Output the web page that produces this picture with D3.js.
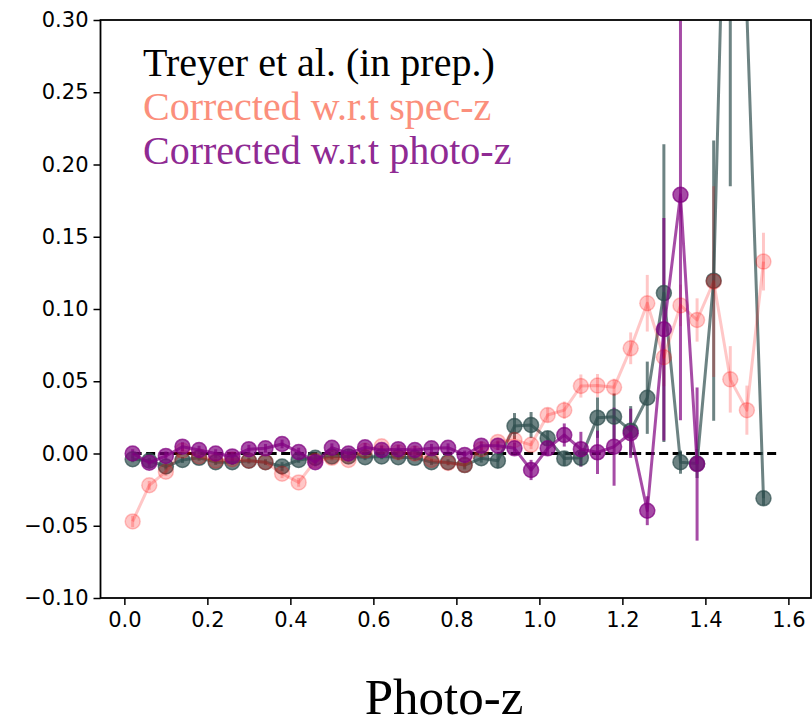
<!DOCTYPE html>
<html>
<head>
<meta charset="utf-8">
<script src="https://cdn.jsdelivr.net/npm/d3@7/dist/d3.min.js"></script>
<style>
  body { margin: 0; background: #fff; }
  .tick text { font-family: "DejaVu Sans", sans-serif; font-size: 21px; fill: #000; }
  .legend-text { font-family: "Liberation Serif", "Times New Roman", serif; font-size: 40px; }
</style>
</head>
<body>
<div id="chart"></div>
<script>
// photo-z bins (bin centres)
var zBins = [0.02, 0.06, 0.10, 0.14, 0.18, 0.22, 0.26, 0.30, 0.34, 0.38,
  0.42, 0.46, 0.50, 0.54, 0.58, 0.62, 0.66, 0.70, 0.74, 0.78,
  0.82, 0.86, 0.90, 0.94, 0.98, 1.02, 1.06, 1.10, 1.14, 1.18,
  1.22, 1.26, 1.30, 1.34, 1.38, 1.42, 1.46, 1.50, 1.54];

// Treyer et al. (in prep.)
var treyerVal = [-0.004, -0.005, -0.009, -0.0045, -0.003, -0.006, -0.006, -0.005, -0.006, -0.009,
  -0.0045, -0.003, -0.002, -0.002, -0.0026, -0.002, -0.0026, -0.003, -0.006, -0.006,
  -0.008, -0.0033, -0.005, 0.019, 0.0197, 0.0105, -0.0035, -0.003, 0.0248, 0.0255,
  0.0158, 0.0386, 0.111, -0.006, -0.007, 0.1196, 0.56, 0.305, -0.031];
var treyerErr = [0.002, 0.002, 0.002, 0.002, 0.002, 0.002, 0.002, 0.002, 0.002, 0.003,
  0.002, 0.002, 0.002, 0.002, 0.002, 0.002, 0.002, 0.002, 0.002, 0.002,
  0.003, 0.003, 0.005, 0.009, 0.009, 0.005, 0.005, 0.006, 0.014, 0.016,
  0.017, 0.025, 0.103, 0.008, 0.01, 0.097, 0.375, 0.004, 0.005];

// corrected w.r.t spec-z
var specVal = [-0.047, -0.022, -0.0126, 0.002, -0.002, -0.005, -0.004, -0.005, -0.006, -0.014,
  -0.020, -0.005, -0.003, -0.0045, 0.002, 0.005, 0.001, 0.000, -0.0045, -0.0066,
  -0.008, 0.003, 0.008, 0.0093, 0.006, 0.0266, 0.030, 0.0467, 0.047, 0.0458,
  0.0728, 0.104, 0.0666, 0.1025, 0.0924, 0.119, 0.0513, 0.030, 0.1328];
var specErr = [0.004, 0.003, 0.003, 0.002, 0.002, 0.002, 0.002, 0.002, 0.002, 0.003,
  0.003, 0.002, 0.002, 0.002, 0.002, 0.002, 0.002, 0.002, 0.002, 0.002,
  0.002, 0.003, 0.003, 0.003, 0.003, 0.005, 0.006, 0.008, 0.008, 0.006,
  0.011, 0.0196, 0.02, 0.0144, 0.015, 0.066, 0.023, 0.017, 0.02];

// corrected w.r.t photo-z (stops at 1.38)
var photoVal = [0.000, -0.0064, -0.0017, 0.0047, 0.0024, 0.000, -0.002, 0.003, 0.0036, 0.0066,
  0.001, -0.006, 0.004, 0.000, 0.0043, 0.0024, 0.003, 0.0024, 0.0036, 0.004,
  -0.001, 0.0054, 0.0054, 0.0036, -0.0114, 0.0036, 0.0128, 0.003, 0.0008, 0.0047,
  0.014, -0.0396, 0.086, 0.179, -0.0073];
var photoErr = [0.003, 0.003, 0.003, 0.003, 0.003, 0.003, 0.003, 0.003, 0.003, 0.003,
  0.003, 0.003, 0.003, 0.003, 0.003, 0.003, 0.003, 0.003, 0.003, 0.003,
  0.003, 0.003, 0.003, 0.004, 0.007, 0.005, 0.008, 0.012, 0.015, 0.027,
  0.017, 0.01, 0.077, 0.156, 0.053];

var xTicks = [0.0, 0.2, 0.4, 0.6, 0.8, 1.0, 1.2, 1.4, 1.6];
var yTicks = [-0.10, -0.05, 0.00, 0.05, 0.10, 0.15, 0.20, 0.25, 0.30];
var zeroLine = [0.02, 1.575];

var legendLabels = ["Treyer et al. (in prep.)", "Corrected w.r.t spec-z", "Corrected w.r.t photo-z"];

var W = 812, H = 727;
var plot = { left: 100.5, right: 811, top: 20, bottom: 598 };

var svg = d3.select("#chart").append("svg")
  .attr("width", W)
  .attr("height", H)
  .style("background", "#fff");

var x = d3.scaleLinear().domain([-0.0575, 1.6545]).range([plot.left, plot.right]);
var y = d3.scaleLinear().domain([-0.10, 0.30]).range([plot.bottom, plot.top]);

svg.append("clipPath").attr("id", "clip")
  .append("rect")
  .attr("x", plot.left).attr("y", plot.top)
  .attr("width", plot.right - plot.left).attr("height", plot.bottom - plot.top);

var g = svg.append("g").attr("clip-path", "url(#clip)");

// zero reference line
g.append("line")
  .attr("x1", x(zeroLine[0])).attr("x2", x(zeroLine[1]))
  .attr("y1", y(0)).attr("y2", y(0))
  .attr("stroke", "#000")
  .attr("stroke-width", 3)
  .attr("stroke-dasharray", "9,4.5");

var series = [
  { vals: treyerVal, errs: treyerErr, color: "#2f4f4f", alpha: 0.7 },
  { vals: specVal, errs: specErr, color: "#ff0000", alpha: 0.22 },
  { vals: photoVal, errs: photoErr, color: "#800080", alpha: 0.7 }
];

series.forEach(function(s) {
  s.data = s.vals.map(function(v, i) { return { z: zBins[i], v: v, e: s.errs[i] }; });
});

// error bars sit under all lines and markers
series.forEach(function(s) {
  g.append("g").selectAll("line")
    .data(s.data)
    .enter().append("line")
    .attr("x1", function(d) { return x(d.z); })
    .attr("x2", function(d) { return x(d.z); })
    .attr("y1", function(d) { return y(d.v - d.e); })
    .attr("y2", function(d) { return y(d.v + d.e); })
    .attr("stroke", s.color)
    .attr("stroke-opacity", s.alpha)
    .attr("stroke-width", 3);
});

var line = d3.line()
  .x(function(d) { return x(d.z); })
  .y(function(d) { return y(d.v); });

series.forEach(function(s) {
  g.append("path")
    .datum(s.data)
    .attr("d", line)
    .attr("fill", "none")
    .attr("stroke", s.color)
    .attr("stroke-opacity", s.alpha)
    .attr("stroke-width", 3)
    .attr("stroke-linejoin", "round");
  g.append("g").selectAll("circle")
    .data(s.data)
    .enter().append("circle")
    .attr("cx", function(d) { return x(d.z); })
    .attr("cy", function(d) { return y(d.v); })
    .attr("r", 7.5)
    .attr("fill", s.color)
    .attr("fill-opacity", s.alpha)
    .attr("stroke", s.color)
    .attr("stroke-opacity", s.alpha)
    .attr("stroke-width", 1.5);
});

// axes
var fmtY = function(d) { return d3.format(".2f")(d).replace("-", "\u2212"); };
svg.append("g")
  .attr("transform", "translate(" + plot.left + ",0)")
  .call(d3.axisLeft(y).tickValues(yTicks).tickFormat(fmtY).tickSize(7).tickPadding(5))
  .call(function(a) { a.select(".domain").remove(); })
  .selectAll(".tick line").attr("stroke-width", 1.5);

svg.append("g")
  .attr("transform", "translate(0," + plot.bottom + ")")
  .call(d3.axisBottom(x).tickValues(xTicks).tickFormat(d3.format(".1f")).tickSize(7).tickPadding(7))
  .call(function(a) { a.select(".domain").remove(); })
  .selectAll(".tick line").attr("stroke-width", 1.5);

// frame
svg.append("rect")
  .attr("x", plot.left).attr("y", plot.top)
  .attr("width", plot.right - plot.left).attr("height", plot.bottom - plot.top)
  .attr("fill", "none")
  .attr("stroke", "#000")
  .attr("stroke-width", 1.8);

// legend texts
var legendColors = ["#000000", "#fb8f7c", "#8f2a93"];
var legendY = [76, 120, 164];
svg.selectAll(".legend-text")
  .data(legendLabels)
  .enter().append("text")
  .attr("class", "legend-text")
  .attr("x", 143)
  .attr("y", function(d, i) { return legendY[i]; })
  .attr("fill", function(d, i) { return legendColors[i]; })
  .text(function(d) { return d; });

// x label
svg.append("text")
  .attr("x", 444)
  .attr("y", 714)
  .attr("text-anchor", "middle")
  .style("font-family", "'Liberation Serif', 'Times New Roman', serif")
  .style("font-size", "51px")
  .text("Photo-z");
</script>
</body>
</html>
